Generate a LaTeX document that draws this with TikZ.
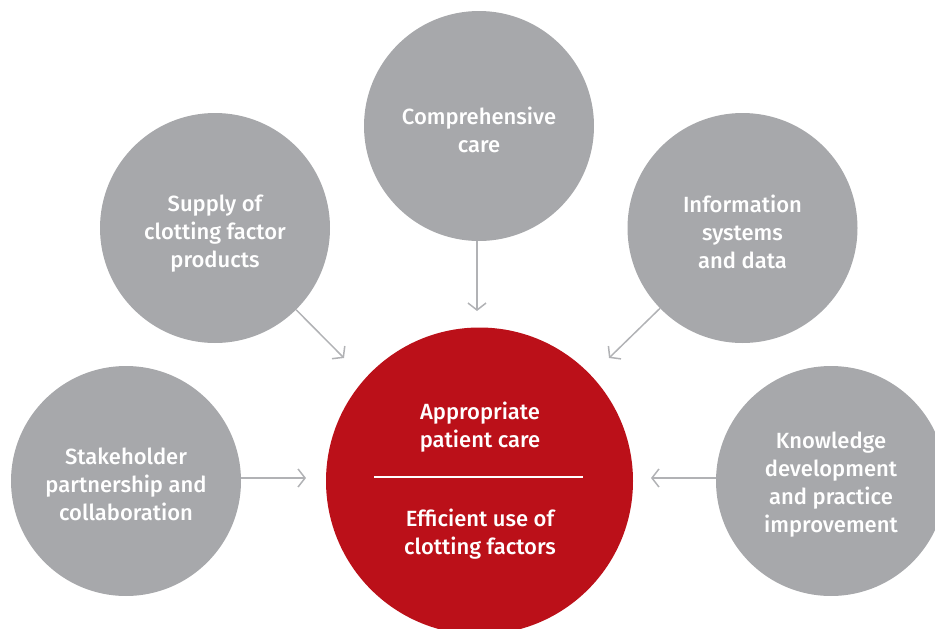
\documentclass[tikz,border=0pt]{standalone}
\usepackage{fontspec}
\setmainfont{Fira Sans}[UprightFont={* Medium}]
\usetikzlibrary{arrows.meta}
\definecolor{cgray}{HTML}{A7A8AB}
\definecolor{cred}{HTML}{BB1019}
\definecolor{cline}{HTML}{B1B2B5}
\tikzset{
  bubble/.style={circle, fill=cgray, minimum size=230pt, inner sep=0pt},
  core/.style={circle, fill=cred, minimum size=307pt, inner sep=0pt},
  ctext/.style={text=white, align=center, font=\fontsize{22}{28}\selectfont},
  conn/.style={draw=cline, line width=1.5pt, -{Straight Barb[length=7pt, width=18pt, line width=1.5pt]}},
}
\begin{document}
\begin{tikzpicture}[x=1pt, y=-1pt]
\useasboundingbox (0,0) rectangle (935,629);
\clip (0,0) rectangle (935,629);
\node[core] (c) at (479.5,481) {};
\node[bubble] (top) at (479,126) {};
\node[bubble] (sup) at (215,228) {};
\node[bubble] (inf) at (742.5,228) {};
\node[bubble] (stk) at (126,481) {};
\node[bubble] (knw) at (831,481) {};
\node[ctext] (topt) at (479,130) {Comprehensive\\care};
\node[ctext] (supt) at (215,234) {Supply of\\clotting factor\\products};
\node[ctext] (inft) at (742.5,232) {Information\\systems\\and data};
\node[ctext] (stkt) at (126,484) {Stakeholder\\partnership and\\collaboration};
\node[ctext] (knwt) at (831,485) {Knowledge\\development\\and practice\\improvement};
\node[ctext] (t1) at (480,427) {Appropriate\\patient care};
\node[ctext] (t2) at (480,534) {Efficient use of\\clotting factors};
\coordinate (l1) at (374,477);
\coordinate (l2) at (583,477);
\draw[white, line width=1.3pt] (l1) -- (l2);
\coordinate (atop) at (477,311);
\coordinate (asup) at (344,358);
\coordinate (ainf) at (609,358);
\coordinate (astk) at (306,478);
\coordinate (aknw) at (651,478);
\draw[conn] (top.south -| atop) -- (atop);
\draw[conn] (sup) -- (asup);
\draw[conn] (inf) -- (ainf);
\draw[conn] (stk.east |- astk) -- (astk);
\draw[conn] (knw.west |- aknw) -- (aknw);
\end{tikzpicture}
\end{document}
